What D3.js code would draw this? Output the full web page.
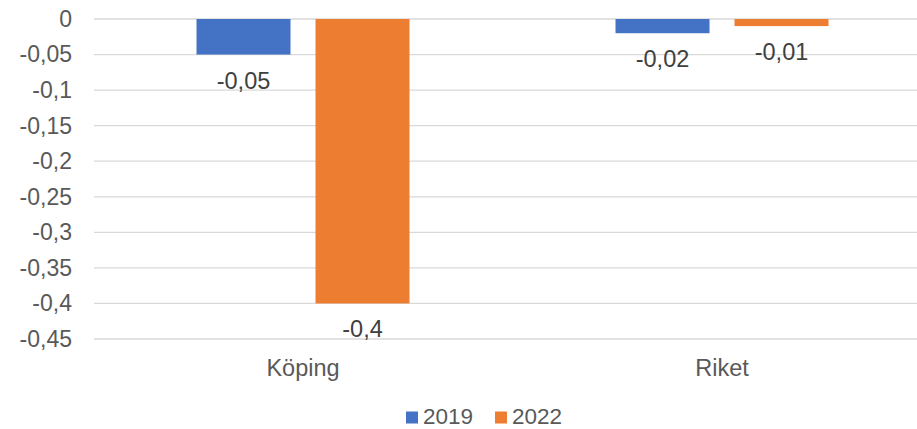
<!DOCTYPE html>
<html><head><meta charset="utf-8">
<script src="https://cdn.jsdelivr.net/npm/d3@7"></script>
<style>body{margin:0;background:#fff}text{font-family:"Liberation Sans",Arial,sans-serif}</style>
</head><body><svg id="c" width="917" height="429"></svg>
<script>
const categories = ["Köping", "Riket"];
const seriesNames = ["2019", "2022"];
const values2019 = [-0.05, -0.02];
const values2022 = [-0.4, -0.01];
const yTicks = [0, -0.05, -0.1, -0.15, -0.2, -0.25, -0.3, -0.35, -0.4, -0.45];
const colors = ["#4472C4", "#ED7D31"];

const svg = d3.select("#c");
const W = 917;
const y = d3.scaleLinear().domain([0, -0.45]).range([19, 339]);
const x0 = d3.scaleBand().domain(categories).range([93.5, 931.5]);
const x1 = d3.scaleBand().domain(seriesNames).range([103, 316]).paddingInner(0.21);
const fmt = v => String(v).replace(".", ",");
const series = [values2019, values2022];

// gridlines
svg.append("g").selectAll("line").data(yTicks).join("line")
  .attr("x1", 94).attr("x2", W)
  .attr("y1", d => y(d)).attr("y2", d => y(d))
  .attr("stroke", "#d9d9d9").attr("stroke-width", 1.3);

// y axis labels
const yAxis = d3.axisLeft(y).tickValues(yTicks).tickSize(0).tickPadding(0).tickFormat(fmt);
const ga = svg.append("g").attr("transform", "translate(72,0)").call(yAxis);
ga.select(".domain").remove();
ga.selectAll("text").attr("font-size", 23).attr("fill", "#595959")
  .attr("font-family", '"Liberation Sans",Arial,sans-serif');

// bars
series.forEach((vals, si) => {
  const g = svg.append("g");
  g.selectAll("rect").data(categories).join("rect")
    .attr("x", c => x0(c) + x1(seriesNames[si]))
    .attr("width", x1.bandwidth())
    .attr("y", (c, i) => y(0))
    .attr("height", (c, i) => y(vals[i]) - y(0))
    .attr("fill", colors[si]);
  g.selectAll("text").data(categories).join("text")
    .attr("x", c => x0(c) + x1(seriesNames[si]) + x1.bandwidth() / 2)
    .attr("y", (c, i) => y(vals[i]) + 34)
    .attr("text-anchor", "middle").attr("font-size", 23.5).attr("fill", "#404040")
    .text((c, i) => fmt(vals[i]));
});

// category labels
svg.append("g").selectAll("text").data(categories).join("text")
  .attr("x", c => x0(c) + x0.bandwidth() / 2)
  .attr("y", 376)
  .attr("text-anchor", "middle").attr("font-size", 23.5).attr("fill", "#595959")
  .text(c => c);

// legend
const legX = [406, 495];
const lg = svg.append("g");
seriesNames.forEach((s, i) => {
  lg.append("rect").attr("x", legX[i]).attr("y", 411.5).attr("width", 12).attr("height", 12).attr("fill", colors[i]);
  lg.append("text").attr("x", legX[i] + 17).attr("y", 424).attr("font-size", 22.5).attr("fill", "#595959").text(s);
});
</script></body></html>
